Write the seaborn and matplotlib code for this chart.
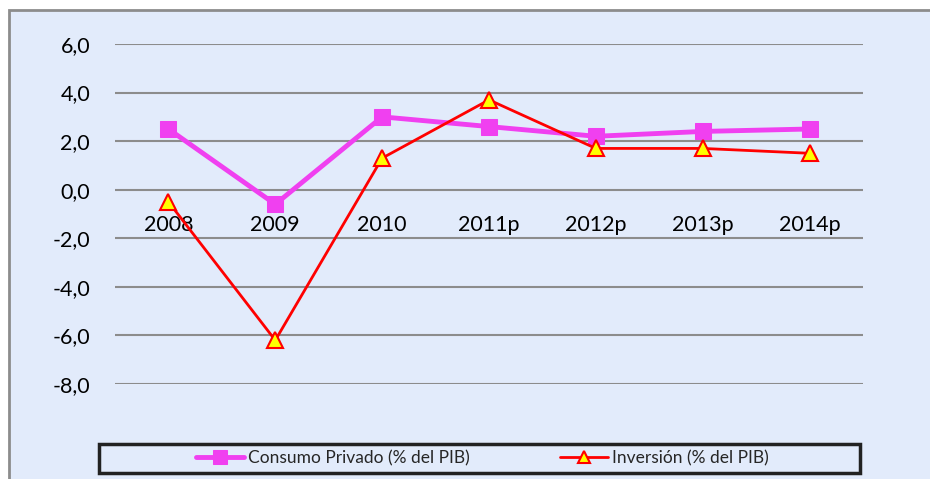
import numpy as np
import pandas as pd
import seaborn as sns
import matplotlib.pyplot as plt
from matplotlib.patches import Rectangle
from matplotlib.ticker import FuncFormatter

years = ['2008', '2009', '2010', '2011p', '2012p', '2013p', '2014p']
consumo = [2.5, -0.6, 3.0, 2.6, 2.2, 2.4, 2.5]
inversion = [-0.5, -6.2, 1.3, 3.7, 1.7, 1.7, 1.5]
y_ticks = [6, 4, 2, 0, -2, -4, -6, -8]

W, H = 930, 479
bg = '#E2EBFB'

sns.set_style('white')
plt.rcParams['font.family'] = ['Lato', 'DejaVu Sans']

fig = plt.figure(figsize=(W / 100, H / 100), dpi=100, facecolor='white')

# outer chart frame
fig.patches.append(Rectangle((9 / W, -0.05), 1.0, (H - 10) / H + 0.05, transform=fig.transFigure,
                             facecolor=bg, edgecolor='#8C8C8C', linewidth=2, zorder=0))

ax = fig.add_axes([115 / W, 1 - 384 / H, (863 - 115) / W, (384 - 44) / H])
ax.set_zorder(2)
ax.patch.set_alpha(0)

x = np.arange(len(years))
sns.lineplot(x=x, y=consumo, ax=ax, color='#F040F0', linewidth=3.5, marker='s', markersize=12,
             markeredgecolor='#F040F0', label='Consumo Privado (% del PIB)', legend=False, zorder=3)
sns.lineplot(x=x, y=inversion, ax=ax, color='#FF0000', linewidth=2, marker='^', markersize=11,
             markerfacecolor='#FFFF00', markeredgecolor='#FF0000', markeredgewidth=1.5,
             label='Inversión (% del PIB)', legend=False, zorder=4)

ax.set_xlim(-0.5, 6.5)
ax.set_ylim(-8, 6)
ax.set_yticks(y_ticks)
ax.yaxis.set_major_formatter(FuncFormatter(lambda v, p: f'{v:.1f}'.replace('.', ',')))
ax.grid(axis='y', color='#8C8C8C', linewidth=1.5)
ax.set_axisbelow(True)
ax.set_xticks(x)
ax.set_xticklabels(years)
ax.spines['bottom'].set_position(('data', 0))
for s in ax.spines.values():
    s.set_visible(False)
ax.tick_params(axis='x', length=0, pad=18, labelsize=15.5, labelcolor='black')
ax.tick_params(axis='y', length=0, pad=18, labelsize=15.5, labelcolor='black')

# legend box
fig.patches.append(Rectangle((99 / W, 1 - 473 / H), (860 - 99) / W, 29 / H, transform=fig.transFigure,
                             facecolor=bg, edgecolor='#222222', linewidth=2.5, zorder=5))
handles, labels = ax.get_legend_handles_labels()
leg = fig.legend(handles, labels, loc='center left', bbox_to_anchor=(180 / W, 1 - 458.5 / H),
                 ncol=2, frameon=False, handlelength=2.8, handletextpad=0.2,
                 columnspacing=5.2, markerscale=0.8,
                 prop={'family': ['Liberation Sans Narrow', 'Lato'], 'size': 12.5})
leg.set_zorder(6)

fig.savefig('out.png', dpi=100, facecolor='white')
